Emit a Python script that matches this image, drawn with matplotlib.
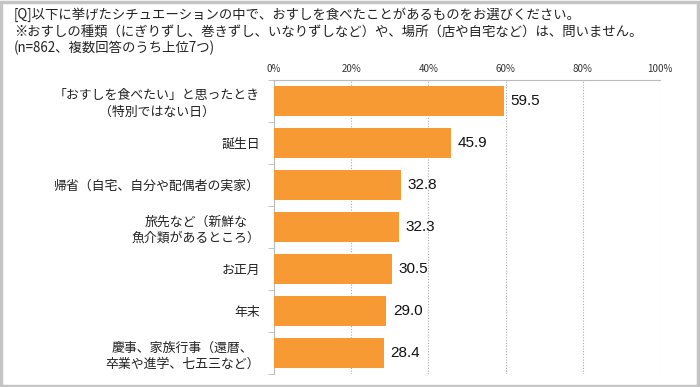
#!/usr/bin/env python3
"""おすしを食べたシチュエーション（上位7つ）の横棒グラフ"""

import matplotlib
matplotlib.use('Agg')
import matplotlib.pyplot as plt
from matplotlib.patches import Rectangle
from matplotlib.ticker import FixedLocator

plt.rcParams['font.family'] = ['Noto Sans CJK JP', 'DejaVu Sans']

# データ
categories = [
    '「おすしを食べたい」と思ったとき\n（特別ではない日）',
    '誕生日',
    '帰省（自宅、自分や配偶者の実家）',
    '旅先など（新鮮な\n魚介類があるところ）',
    'お正月',
    '年末',
    '慶事、家族行事（還暦、\n卒業や進学、七五三など）',
]
values = [59.5, 45.9, 32.8, 32.3, 30.5, 29.0, 28.4]
tick_values = [0, 20, 40, 60, 80, 100]
tick_labels = ['0%', '20%', '40%', '60%', '80%', '100%']
title_lines = [
    '[Q]以下に挙げたシチュエーションの中で、おすしを食べたことがあるものをお選びください。',
    '※おすしの種類（にぎりずし、巻きずし、いなりずしなど）や、場所（店や自宅など）は、問いません。',
    '(n=862、複数回答のうち上位7つ)',
]

BAR_COLOR = '#F79A33'
W, H = 700, 387

fig = plt.figure(figsize=(W / 100, H / 100), dpi=100)

# 外枠
fig.patches.append(Rectangle((0.002, 0.003), 0.995, 0.993, transform=fig.transFigure,
                             fill=False, edgecolor='#c4c4c4', linewidth=2.5))

# タイトル
for i, line in enumerate(title_lines):
    fig.text(14 / W, 1 - (15 + i * 16.5) / H, line, fontsize=9.6, va='center',
             ha='left', color='#222222')

ax = fig.add_axes([274 / W, 1 - 374 / H, (660 - 274) / W, (374 - 80) / H])
n = len(categories)
y = list(range(n))
ax.barh(y, values, height=0.72, color=BAR_COLOR, zorder=3)
ax.set_ylim(n - 0.5, -0.5)
ax.set_xlim(0, 100)

for yi, v in zip(y, values):
    ax.text(v + 1.8, yi, f'{v:.1f}', va='center', ha='left', fontsize=11,
            family=['Liberation Sans', 'DejaVu Sans'], color='#111111')

# 目盛り
ax.xaxis.tick_top()
ax.set_xticks(tick_values)
ax.set_xticklabels(tick_labels, fontsize=7, color='#333333')
ax.tick_params(axis='x', length=0, pad=4)
ax.set_yticks(y)
ax.set_yticklabels(categories, fontsize=9.3, color='#222222', linespacing=1.35)
ax.tick_params(axis='y', length=0, pad=10)
ax.yaxis.set_minor_locator(FixedLocator([i - 0.5 for i in range(n + 1)]))
ax.tick_params(axis='y', which='minor', length=4, color='#bbbbbb')
for lbl in ax.get_yticklabels():
    lbl.set_multialignment('center')

ax.grid(axis='x', linestyle=(0, (1, 1.5)), color='#aaaaaa', linewidth=0.8, zorder=0)
for s in ['bottom', 'right']:
    ax.spines[s].set_visible(False)
ax.spines['top'].set_color('#bbbbbb')
ax.spines['left'].set_color('#bbbbbb')

plt.savefig('out.png', dpi=100)
